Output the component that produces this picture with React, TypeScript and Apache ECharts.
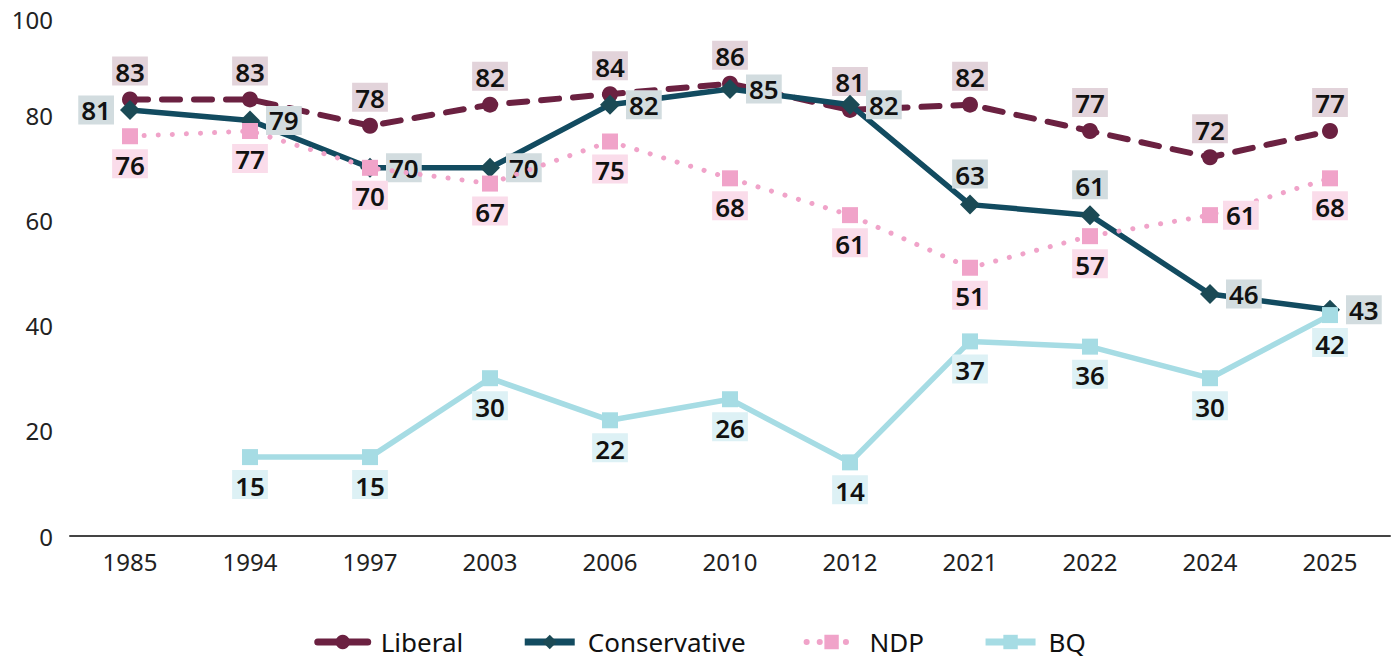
import React, { useEffect, useRef } from "react";
import * as echarts from "echarts";

const years = ["1985", "1994", "1997", "2003", "2006", "2010", "2012", "2021", "2022", "2024", "2025"];
const liberal = [83, 83, 78, 82, 84, 86, 81, 82, 77, 72, 77];
const conservative = [81, 79, 70, 70, 82, 85, 82, 63, 61, 46, 43];
const ndp = [76, 77, 70, 67, 75, 68, 61, 51, 57, 61, 68];
const bq: (number | null)[] = [null, 15, 15, 30, 22, 26, 14, 37, 36, 30, 42];
const yTicks = [0, 20, 40, 60, 80, 100];

const consLabelPos = ["left", "right", "right", "right", "right", "right", "right", "top", "top", "right", "right"];
const ndpLabelPos = ["bottom", "bottom", "bottom", "bottom", "bottom", "bottom", "bottom", "bottom", "bottom", "right", "bottom"];

const FONT = "'Noto Sans', sans-serif";

function lbl(bg: string, position: string, distance: number) {
  return {
    show: true,
    position,
    distance,
    fontSize: 26,
    fontWeight: 600,
    fontFamily: FONT,
    color: "#111",
    backgroundColor: bg,
    padding: [1, 3, -1, 3],
    lineHeight: 29,
  };
}

export default function App() {
  const ref = useRef<HTMLDivElement>(null);
  useEffect(() => {
    document.body.style.margin = "0";
    const chart = echarts.init(ref.current!, null, { renderer: "svg" });
    chart.setOption({
      animation: false,
      backgroundColor: "#fff",
      grid: { left: 70, right: 10, top: 10, bottom: 124 },
      xAxis: {
        type: "category",
        data: years,
        boundaryGap: true,
        axisLine: { lineStyle: { color: "#444", width: 2 } },
        axisTick: { show: false },
        axisLabel: { fontSize: 24, color: "#222", fontFamily: FONT, margin: 13 },
      },
      yAxis: {
        type: "value",
        min: yTicks[0],
        max: yTicks[yTicks.length - 1],
        interval: 20,
        splitLine: { show: false },
        axisLine: { show: false },
        axisTick: { show: false },
        axisLabel: {
          fontSize: 24,
          color: "#222",
          fontFamily: FONT,
          margin: 17,
          formatter: (v: number) => (v === 100 ? "{t|100}" : String(v)),
          rich: { t: { fontSize: 24, color: "#222", fontFamily: FONT, padding: [18, 0, 0, 0] } },
        },
      },
      legend: {
        bottom: 0,
        left: "center",
        itemWidth: 50,
        itemHeight: 18,
        itemGap: 58,
        textStyle: { fontSize: 26, color: "#111", fontFamily: FONT, padding: [0, 0, 0, 8] },
        data: [
          { name: "Liberal", lineStyle: { width: 7, type: "solid" } },
          { name: "Conservative", lineStyle: { width: 7, type: "solid" } },
          { name: "NDP", lineStyle: { width: 6, type: [0.1, 13], cap: "round" } },
          { name: "BQ", lineStyle: { width: 7, type: "solid" } },
        ],
      },
      series: [
        {
          name: "Liberal",
          type: "line",
          data: liberal,
          symbol: "circle",
          symbolSize: 16,
          itemStyle: { color: "#6B2141" },
          lineStyle: { color: "#6B2141", width: 6, type: [18, 14], cap: "round" },
          label: lbl("#E2D3DA", "top", 6),
          z: 2,
        },
        {
          name: "Conservative",
          type: "line",
          data: conservative.map((v, i) => ({ value: v, label: { position: consLabelPos[i] } })),
          symbol: "diamond",
          symbolSize: 20,
          itemStyle: { color: "#1B4A55" },
          lineStyle: { color: "#124B60", width: 5.5 },
          label: lbl("#D2DCDF", "right", 6),
          z: 3,
        },
        {
          name: "NDP",
          type: "line",
          data: ndp.map((v, i) => ({ value: v, label: { position: ndpLabelPos[i] } })),
          symbol: "rect",
          symbolSize: 16,
          itemStyle: { color: "#F0A3C9" },
          lineStyle: { color: "#F0A3C9", width: 5, type: [0.1, 14], cap: "round" },
          label: lbl("#FADCEA", "bottom", 5),
          z: 4,
        },
        {
          name: "BQ",
          type: "line",
          data: bq,
          symbol: "rect",
          symbolSize: 16,
          itemStyle: { color: "#A6DCE4" },
          lineStyle: { color: "#A6DCE4", width: 5.5 },
          label: lbl("#DDF1F5", "bottom", 5),
          z: 5,
        },
      ],
    });
    return () => chart.dispose();
  }, []);
  return <div ref={ref} style={{ width: 1400, height: 660 }} />;
}
